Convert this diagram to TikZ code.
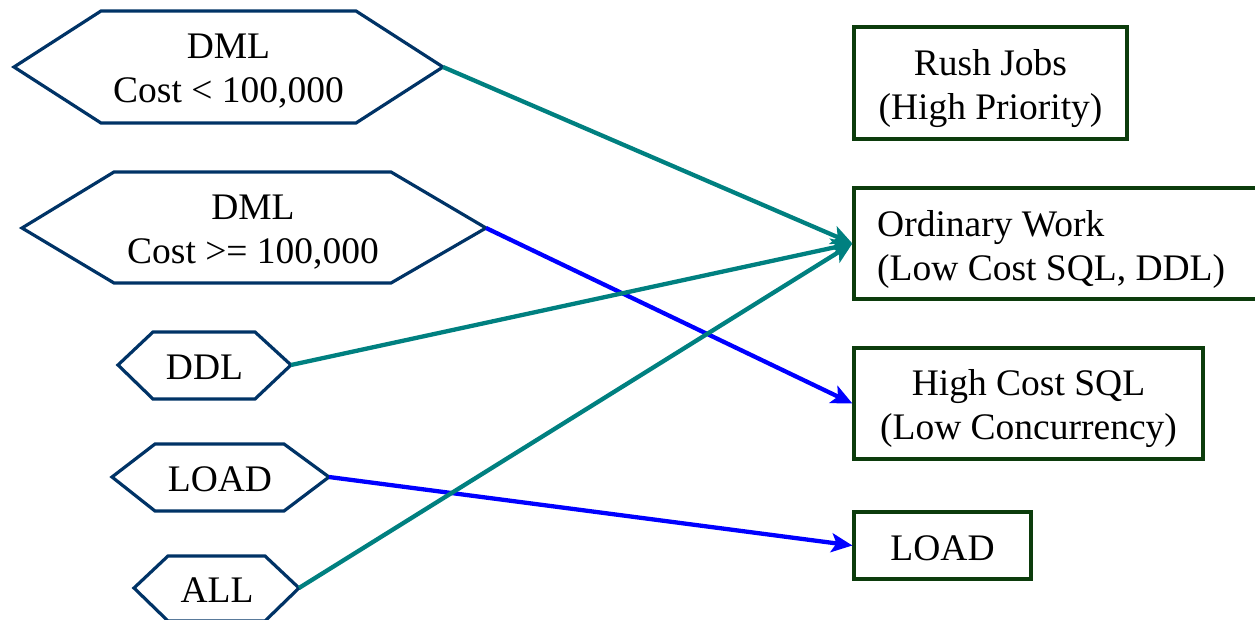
\documentclass[tikz,border=0pt]{standalone}
\usepackage{fontspec}
\setmainfont{Liberation Serif}
\usetikzlibrary{arrows.meta}
\definecolor{hexblue}{RGB}{0,51,102}
\definecolor{boxgreen}{RGB}{12,60,12}
\definecolor{routeteal}{RGB}{0,128,128}
\definecolor{routeblue}{RGB}{0,0,255}
\begin{document}
\begin{tikzpicture}[x=1pt,y=-1pt,
  bigfont/.style={font=\fontsize{37.5}{44}\selectfont},
  lbl/.style={bigfont, align=center, inner sep=0pt},
  hexline/.style={draw=hexblue, line width=3.2pt, line join=miter},
  classbox/.style={draw=boxgreen, line width=3.2pt, inner sep=0pt},
  route/.style={line width=4.3pt, -{Stealth[length=21pt,width=19pt,inset=5pt]}},
  tealroute/.style={route, draw=routeteal, fill=routeteal},
  blueroute/.style={route, draw=routeblue, fill=routeblue}]
\useasboundingbox (0,0) rectangle (1255,620);

% request classes (hexagons)
\draw[hexline] (14,67) -- (101,11) -- (356,11) -- (443,67) -- (356,123) -- (101,123) -- cycle;
\coordinate (dmlsmall) at (443,67);
\node[lbl] (dmlsmalltxt) at (228.5,71) {DML\\Cost < 100,000};

\draw[hexline] (22,228) -- (114,172) -- (391,172) -- (486,228) -- (391,283) -- (114,283) -- cycle;
\coordinate (dmlbig) at (486,228);
\node[lbl] (dmlbigtxt) at (253,232) {DML\\Cost >= 100,000};

\draw[hexline] (118,365) -- (153,332) -- (255,332) -- (291,365) -- (255,399) -- (153,399) -- cycle;
\coordinate (ddl) at (291,365);
\node[lbl] (ddltxt) at (204.5,367) {DDL};

\draw[hexline] (112,477) -- (155,444) -- (284,444) -- (329,477) -- (284,511) -- (155,511) -- cycle;
\coordinate (loadin) at (329,477);
\node[lbl] (loadtxt) at (220,479) {LOAD};

\draw[hexline] (134,588) -- (168,556) -- (265,556) -- (299,588) -- (265,621) -- (168,621) -- cycle;
\coordinate (allin) at (299,588);
\node[lbl] (alltxt) at (217,590) {ALL};

% resource groups (boxes) and their captions
\node[classbox, minimum width=273pt, minimum height=112pt] (rush) at (990.5,83) {};
\node[lbl] (rushtxt) at (990.5,89) {Rush Jobs\\(High Priority)};

\node[classbox, minimum width=403pt, minimum height=111pt] (ord) at (1055.5,243.5) {};
\node[lbl, align=left, anchor=west] (ordtxt) at (877,249) {Ordinary Work\\(Low Cost SQL, DDL)};

\node[classbox, minimum width=349pt, minimum height=111pt] (high) at (1028.5,403.5) {};
\node[lbl] (hightxt) at (1028.5,409) {High Cost SQL\\(Low Concurrency)};

\node[classbox, minimum width=177pt, minimum height=67pt] (loadout) at (942.5,545.5) {};
\node[lbl] (loadouttxt) at (942.5,548) {LOAD};

% routing
\draw[tealroute] (dmlsmall) -- (ord.west);
\draw[blueroute] (dmlbig) -- (high.west);
\draw[tealroute] (ddl) -- (ord.west);
\draw[blueroute] (loadin) -- (loadout.west);
\draw[tealroute] (allin) -- (ord.west);
\end{tikzpicture}
\end{document}
